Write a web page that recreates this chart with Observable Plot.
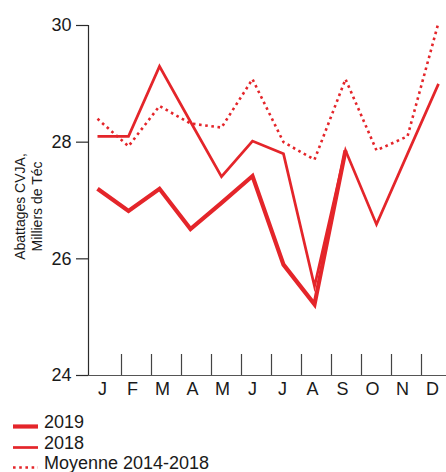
<!DOCTYPE html>
<html>
<head>
<meta charset="utf-8">
<script src="https://cdn.jsdelivr.net/npm/d3@7"></script>
<script src="https://cdn.jsdelivr.net/npm/@observablehq/plot@0.6"></script>
<style>
  html, body { margin: 0; padding: 0; background: #fff; }
  #wrap { position: relative; width: 446px; height: 472px; font-family: "Liberation Sans", Arial, sans-serif; color: #1a1a1a; }
  #chart { position: absolute; left: 0; top: 0; width: 446px; height: 400px; }
  #chart svg { position: absolute; left: 0; top: 0; }
  #legend { position: absolute; left: 0; top: 412px; }
  .row { display: flex; align-items: flex-start; height: 20px; font-size: 18px; line-height: 20px; margin-bottom: 0.5px; }
  .row svg { display: block; flex: none; }
</style>
</head>
<body>
<div id="wrap">
  <div id="chart"></div>
  <div id="legend"></div>
</div>
<script>
// ---- data ----
const monthLabels = ["J", "F", "M", "A", "M", "J", "J", "A", "S", "O", "N", "D"];
const yTicks = [24, 26, 28, 30];
const values2019 = [27.2, 26.82, 27.2, 26.51, 26.96, 27.42, 25.9, 25.22, 27.86];
const values2018 = [28.1, 28.1, 29.3, 28.35, 27.41, 28.02, 27.8, 25.53, 27.86, 26.59, 27.8, 29.0];
const valuesAvg = [28.4, 27.93, 28.62, 28.32, 28.25, 29.08, 28.0, 27.7, 29.08, 27.86, 28.1, 30.05];
const seriesNames = ["2019", "2018", "Moyenne 2014-2018"];
const yTitle = "Abattages CVJA,\nMilliers de Téc";

// ---- styles ----
const RED = "#e4252a";
const AXIS = "#2b2b2b";
const FONT = "'Liberation Sans', Arial, sans-serif";
const W = 446, H = 400, MT = 25, MB = 25;
const styles = [
  {name: seriesNames[0], values: values2019, strokeWidth: 4.2, dash: null},
  {name: seriesNames[1], values: values2018, strokeWidth: 2.7, dash: null},
  {name: seriesNames[2], values: valuesAvg, strokeWidth: 2.6, dash: "2.6 3.6"}
];
const idx = d3.range(monthLabels.length);

// ---- axes plot ----
const axes = Plot.plot({
  width: W, height: H,
  marginTop: MT, marginBottom: MB, marginLeft: 88, marginRight: 0,
  style: {fontFamily: FONT, fontSize: "18px", color: "#1a1a1a", background: "transparent", overflow: "visible"},
  x: {type: "band", domain: idx, range: [91, 451], padding: 0},
  y: {domain: [24, 30]},
  marks: [
    Plot.frame({anchor: "left", stroke: AXIS, strokeWidth: 1.2}),
    Plot.ruleY([24], {stroke: "#555", strokeWidth: 1.2}),
    Plot.gridX(idx.slice(1), {stroke: "#444", strokeOpacity: 1, strokeWidth: 1.2, dx: -15, insetTop: (H - MT - MB) - 21}),
    Plot.axisY({ticks: yTicks, tickFormat: d3.format("d"), tickSize: 12, tickPadding: 5, fontSize: 18, label: null, stroke: AXIS, strokeWidth: 1.2}),
    Plot.axisX({tickSize: 0, tickPadding: 7, fontSize: 18, label: null, dx: -4, tickFormat: i => monthLabels[i]}),
    Plot.text([yTitle], {frameAnchor: "left", textAnchor: "middle", text: d => d, rotate: -90, dx: -60, dy: 6, fontSize: 14, lineHeight: 1.2, fill: "#1a1a1a"})
  ]
});

// ---- lines plot ----
const rows = styles.flatMap(s => s.values.map((v, i) => ({series: s.name, m: i, v})));
const lines = Plot.plot({
  width: W, height: H,
  marginTop: MT, marginBottom: MB, marginLeft: 95, marginRight: 7,
  style: {background: "transparent", overflow: "visible"},
  x: {type: "point", domain: idx, range: [95, 439], padding: 0, axis: null},
  y: {domain: [24, 30], axis: null},
  marks: styles.slice().reverse().map(s =>
    Plot.line(rows.filter(r => r.series === s.name), {
      x: "m", y: "v", stroke: RED, strokeWidth: s.strokeWidth,
      strokeDasharray: s.dash, strokeLinejoin: "miter", strokeMiterlimit: 6, strokeLinecap: "butt"
    })
  )
});

const chart = document.getElementById("chart");
chart.appendChild(axes);
chart.appendChild(lines);

// ---- legend ----
const legend = document.getElementById("legend");
styles.forEach(s => {
  const row = document.createElement("div");
  row.className = "row";
  const ns = "http://www.w3.org/2000/svg";
  const sw = document.createElementNS(ns, "svg");
  sw.setAttribute("width", 44);
  sw.setAttribute("height", 20);
  const ln = document.createElementNS(ns, "line");
  ln.setAttribute("x1", 13); ln.setAttribute("x2", 38);
  ln.setAttribute("y1", 14.5); ln.setAttribute("y2", 14.5);
  ln.setAttribute("stroke", RED);
  ln.setAttribute("stroke-width", s.strokeWidth);
  if (s.dash) ln.setAttribute("stroke-dasharray", s.dash);
  sw.appendChild(ln);
  const t = document.createElement("span");
  t.textContent = s.name;
  row.appendChild(sw);
  row.appendChild(t);
  legend.appendChild(row);
});
</script>
</body>
</html>
